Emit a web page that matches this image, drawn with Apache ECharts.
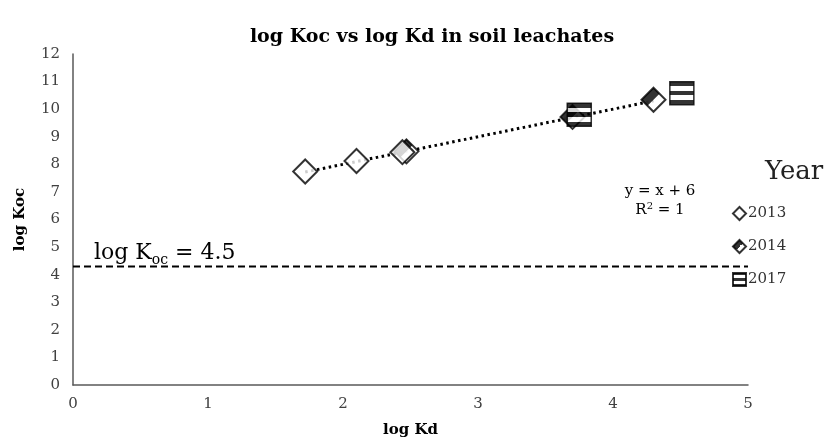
<!DOCTYPE html>
<html>
<head>
<meta charset="utf-8">
<script src="https://cdn.jsdelivr.net/npm/echarts@6/dist/echarts.min.js"></script>
<style>
  html, body { margin: 0; padding: 0; background: #fff; }
  #chart { width: 832px; height: 443px; }
</style>
</head>
<body>
<div id="chart"></div>
<script>
// data
var years = ['2013', '2014', '2017'];
var data2013 = [[1.72, 7.74], [2.10, 8.12], [2.44, 8.44]];
var data2014 = [[2.47, 8.47], [3.70, 9.72], [4.30, 10.34]];
var data2017 = [[3.75, 9.80], [4.51, 10.58]];
var trend = [[1.72, 7.72], [4.30, 10.30]];   // y = x + 6
var kocLimit = 4.3;                          // drawn level of the dashed line
var xTicks = [0, 5, 1];   // min, max, interval
var yTicks = [0, 12, 1];

var serif = 'DejaVu Serif';
var chart = echarts.init(document.getElementById('chart'));

var diamondSize = 24;
// black strip along the top-left edge of the diamond (2014 marker)
var halfPath = 'path://M0,1 L1,0 L1.5,0.5 L0.5,1.5 Z';

var half = new echarts.graphic.LinearGradient(0, 0, 1, 1, [
  { offset: 0, color: '#000' }, { offset: 0.5, color: '#000' },
  { offset: 0.5, color: '#fff' }, { offset: 1, color: '#fff' }
]);
var stripes = new echarts.graphic.LinearGradient(0, 0, 0, 1, [
  { offset: 0, color: '#000' }, { offset: 0.22, color: '#000' },
  { offset: 0.22, color: '#fff' }, { offset: 0.4, color: '#fff' },
  { offset: 0.4, color: '#000' }, { offset: 0.58, color: '#000' },
  { offset: 0.58, color: '#fff' }, { offset: 0.78, color: '#fff' },
  { offset: 0.78, color: '#000' }, { offset: 1, color: '#000' }
]);

var option = {
  animation: false,
  title: {
    text: 'log Koc vs log Kd in soil leachates',
    left: 427, top: 23, textAlign: 'center',
    textStyle: { fontFamily: serif, fontWeight: 'bold', fontSize: 19, color: '#000' }
  },
  grid: { left: 73, right: 84, top: 54, bottom: 55 },
  legend: {
    orient: 'vertical', left: 727, top: 201, itemGap: 18,
    itemWidth: 13, itemHeight: 13,
    data: [
      { name: '2013', itemStyle: { color: '#fff', borderColor: '#000', borderWidth: 2 } },
      { name: '2014', itemStyle: { color: half, borderColor: '#000', borderWidth: 2 } },
      { name: '2017' }
    ],
    textStyle: { fontFamily: serif, fontSize: 15, color: '#333', padding: [0, 0, 0, -3] }
  },
  xAxis: {
    type: 'value', min: xTicks[0], max: xTicks[1], interval: xTicks[2],
    name: 'log Kd', nameLocation: 'middle', nameGap: 38,
    nameTextStyle: { fontFamily: serif, fontWeight: 'bold', fontSize: 15, color: '#000' },
    axisLine: { lineStyle: { color: '#595959', width: 1.5 } },
    axisTick: { show: false },
    splitLine: { show: false },
    axisLabel: { fontFamily: serif, fontSize: 15, color: '#404040', margin: 12 }
  },
  yAxis: {
    type: 'value', min: yTicks[0], max: yTicks[1], interval: yTicks[2],
    name: 'log Koc', nameLocation: 'middle', nameGap: 45, nameRotate: 90,
    nameTextStyle: { fontFamily: serif, fontWeight: 'bold', fontSize: 15, color: '#000' },
    axisLine: { show: true, lineStyle: { color: '#595959', width: 1.5 } },
    axisTick: { show: false },
    splitLine: { show: false },
    axisLabel: { fontFamily: serif, fontSize: 15, color: '#404040', margin: 13 }
  },
  series: [
    {
      type: 'line', data: [[xTicks[0], kocLimit], [xTicks[1], kocLimit]],
      symbol: 'none', silent: true, z: 1,
      lineStyle: { color: '#000', width: 2, type: [7, 4] }
    },
    {
      type: 'line', data: trend, symbol: 'none', silent: true, z: 1,
      lineStyle: { color: '#000', width: 3, type: [2.5, 3.5] }
    },
    {
      name: '2014', type: 'scatter', data: data2014, symbol: 'diamond', symbolSize: diamondSize, z: 2,
      itemStyle: { color: '#fff', borderColor: '#000', borderWidth: 2 }
    },
    {
      // filled strip of the 2014 marker, kept out of the legend
      name: '2014 fill', type: 'scatter', data: data2014, symbol: halfPath,
      symbolSize: diamondSize * 0.75, symbolOffset: [-diamondSize / 8, -diamondSize / 8],
      z: 2, silent: true,
      itemStyle: { color: '#000' }
    },
    {
      name: '2013', type: 'scatter', data: data2013, symbol: 'diamond', symbolSize: diamondSize, z: 3,
      itemStyle: { color: '#fff', borderColor: '#000', borderWidth: 2 }
    },
    {
      name: '2017', type: 'scatter', data: data2017, symbol: 'rect', symbolSize: [24, 23], z: 4,
      itemStyle: { color: stripes, borderColor: '#000', borderWidth: 1.5 }
    }
  ],
  graphic: [
    {
      type: 'text', left: 765, top: 159,
      style: { text: 'Year', fontFamily: serif, fontSize: 26, fill: '#222' }
    },
    {
      type: 'text', left: 94, top: 242,
      style: {
        text: '{a|log K}{b|oc}{a| = 4.5}',
        rich: {
          a: { fontFamily: serif, fontSize: 22, color: '#000' },
          b: { fontFamily: serif, fontSize: 14, color: '#000', padding: [14, 0, 0, 0] }
        }
      }
    },
    {
      type: 'text', x: 660, y: 191, style: {
        text: 'y = x + 6', fontFamily: serif, fontSize: 15, fill: '#000',
        align: 'center', verticalAlign: 'middle'
      }
    },
    {
      type: 'text', x: 660, y: 210, style: {
        text: '{a|R}{s|2}{a| = 1}', align: 'center', verticalAlign: 'middle',
        rich: {
          a: { fontFamily: serif, fontSize: 15, color: '#000' },
          s: { fontFamily: serif, fontSize: 10, color: '#000', padding: [0, 0, 7, 0] }
        }
      }
    }
  ]
};
chart.setOption(option);
</script>
</body>
</html>
